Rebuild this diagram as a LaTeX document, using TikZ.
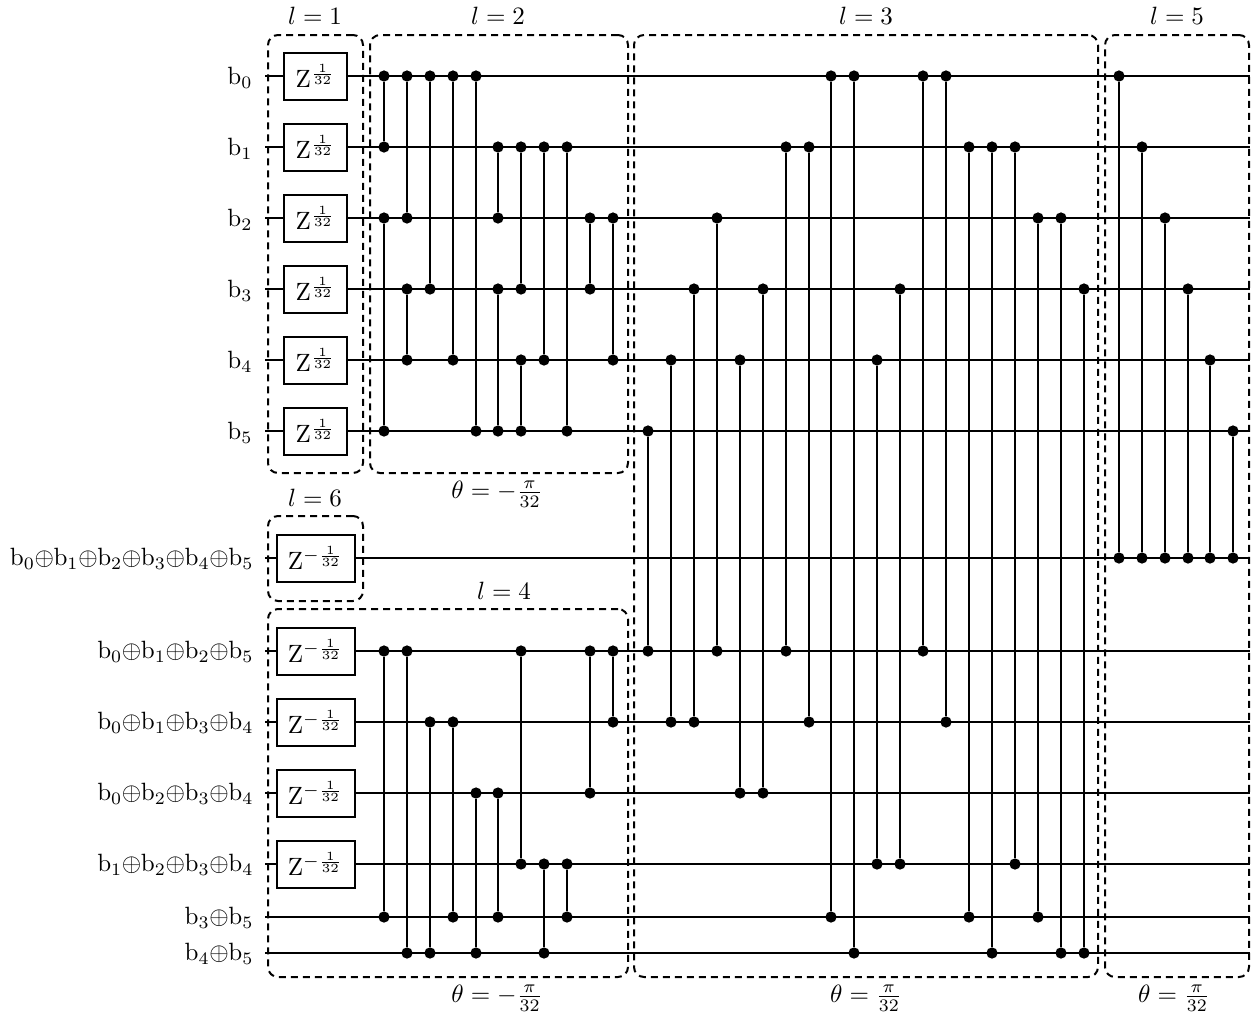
\documentclass[tikz,border=0pt]{standalone}
\usepackage{amsmath}
\usepackage{amssymb}
\usetikzlibrary{fit,positioning,calc}
\newcommand{\bt}[1]{\mathrm{b}_{#1}}
\newcommand{\xr}{{\kern-0.17pt\oplus\kern-0.17pt}}
\tikzset{
   wire/.style={line width=0.6pt},
   cz/.style={line width=0.7pt},
   ctrl/.style={circle,fill=black,inner sep=0pt,minimum size=4.5pt},
   zgate/.style={draw,line width=0.8pt,fill=white,inner sep=0pt,minimum width=25pt,minimum height=18.8pt},
   zdag/.style={zgate,minimum width=31.2pt},
   grp/.style={draw,line width=0.8pt,dash pattern=on 2.8pt off 2pt,rounded corners=4pt,inner sep=0pt},
   wname/.style={anchor=east,inner sep=0pt},
   grpname/.style={inner sep=0pt},
}
\begin{document}
\begin{tikzpicture}[x=0.4pt,y=-0.4pt]
      \useasboundingbox (0,0) rectangle (1259,1015);

      % wires
      \foreach \w/\y in {0/76,1/147,2/218,3/289,4/360,5/431,6/558,7/651,8/722,9/793,10/864,11/917,12/953}{
        \coordinate (w\w) at (265,\y);
        \coordinate (e\w) at (1250,\y);
        \draw[wire] (w\w) -- (e\w);
      }

      \foreach \w in {0,...,5}{
        \node[wname] (lb\w) at ($(w\w)+(-12,2)$) {$\bt{\w}$};
        \node[zgate] (z\w) at (315.5,0 |- w\w) {$\mathrm{Z}^{\frac{1}{32}}$};
      }
      \node[wname] (lb6) at ($(w6)+(-11,1)$) {$\bt0\xr\bt1\xr\bt2\xr\bt3\xr\bt4\xr\bt5$};
      \node[wname] (lb7) at ($(w7)+(-11,1)$) {$\bt0\xr\bt1\xr\bt2\xr\bt5$};
      \node[wname] (lb8) at ($(w8)+(-11,1)$) {$\bt0\xr\bt1\xr\bt3\xr\bt4$};
      \node[wname] (lb9) at ($(w9)+(-11,1)$) {$\bt0\xr\bt2\xr\bt3\xr\bt4$};
      \node[wname] (lb10) at ($(w10)+(-11,1)$) {$\bt1\xr\bt2\xr\bt3\xr\bt4$};
      \node[wname] (lb11) at ($(w11)+(-11,1)$) {$\bt3\xr\bt5$};
      \node[wname] (lb12) at ($(w12)+(-11,1)$) {$\bt4\xr\bt5$};
      \foreach \w in {6,...,10}{
        \node[zdag] (z\w) at (315.5,0 |- w\w) {$\mathrm{Z}^{-\frac{1}{32}}$};
      }

      % dashed groups
      \node[grp,fit={(268,35) (363,473)}] (g1) {};
      \node[grp,fit={(370,35) (628,473)}] (g2) {};
      \node[grp,fit={(634,35) (1098,977)}] (g3) {};
      \node[grp,fit={(1105,35) (1249,977)}] (g5) {};
      \node[grp,fit={(268,516) (363,601)}] (g6) {};
      \node[grp,fit={(268,609) (628,977)}] (g4) {};

      \node[grpname] (l1) at (315,16) {$l=1$};
      \node[grpname] (l2) at (498,16) {$l=2$};
      \node[grpname] (l3) at (866,16) {$l=3$};
      \node[grpname] (l5) at (1177,16) {$l=5$};
      \node[grpname] (l6) at (315,498) {$l=6$};
      \node[grpname] (l4) at (504,591) {$l=4$};
      \node[grpname] (t2) at (497,494) {$\theta=-\frac{\pi}{32}$};
      \node[grpname] (t4) at (497,998) {$\theta=-\frac{\pi}{32}$};
      \node[grpname] (t3) at (866,998) {$\theta=\frac{\pi}{32}$};
      \node[grpname] (t5) at (1174,998) {$\theta=\frac{\pi}{32}$};

      % controlled phases
      \foreach \x/\a/\b in {
        384/0/1,384/2/5,407/0/2,407/3/4,430/0/3,453/0/4,476/0/5,498/1/2,498/3/5,
        521/1/3,521/4/5,544/1/4,567/1/5,590/2/3,613/2/4,
        384/7/11,407/7/12,430/8/12,453/8/11,476/9/12,498/9/11,521/7/10,544/10/12,
        567/10/11,590/7/9,613/7/8,
        648/5/7,671/4/8,694/3/8,717/2/7,740/4/9,763/3/9,786/1/7,809/1/8,831/0/11,
        854/0/12,877/4/10,900/3/10,923/0/7,946/0/8,969/1/11,992/1/12,1015/1/10,
        1038/2/11,1061/2/12,1084/3/12,
        1119/0/6,1142/1/6,1165/2/6,1188/3/6,1210/4/6,1233/5/6}{
        \node[ctrl] (d\x a\a) at (\x,0 |- w\a) {};
        \node[ctrl] (d\x b\b) at (\x,0 |- w\b) {};
        \draw[cz] (d\x a\a) -- (d\x b\b);
      }
\end{tikzpicture}
\end{document}
